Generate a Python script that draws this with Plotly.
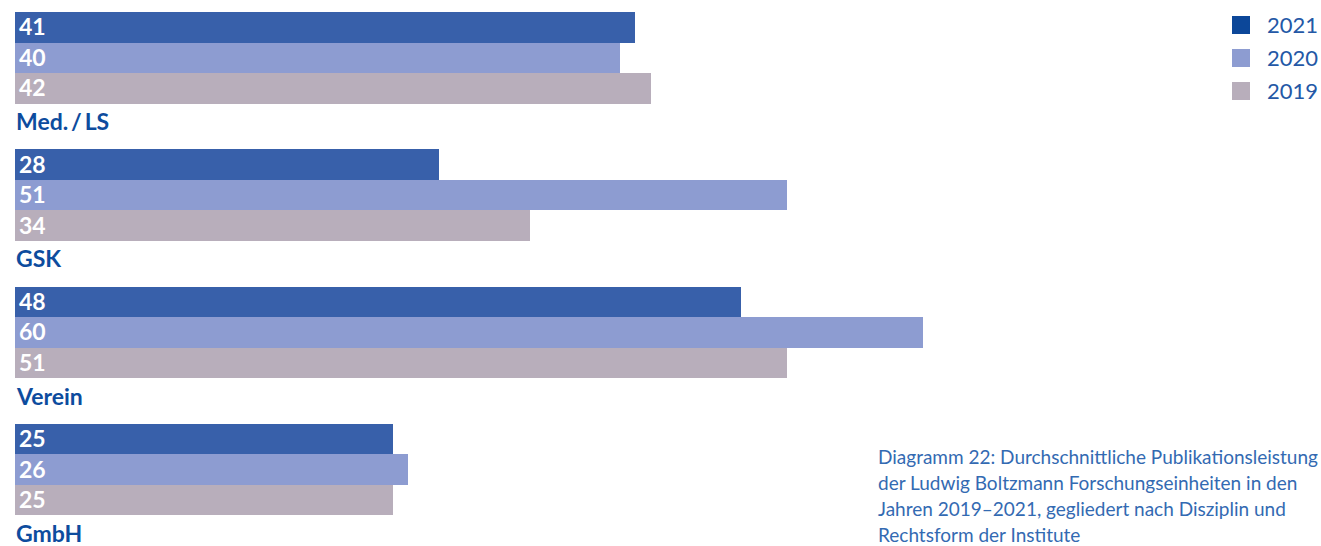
import plotly.graph_objects as go

categories = ["Med.\u2009/\u2009LS", "GSK", "Verein", "GmbH"]
years = ["2021", "2020", "2019"]
values = {
    "2021": [41, 28, 48, 25],
    "2020": [40, 51, 60, 26],
    "2019": [42, 34, 51, 25],
}
colors = {"2021": "#3860aa", "2020": "#8d9cd1", "2019": "#b8aebb"}
legend_colors = {"2021": "#0c4799", "2020": "#8d9cd1", "2019": "#b8aebb"}
caption_lines = [
    "Diagramm 22: Durchschnittliche Publikationsleistung",
    "der Ludwig Boltzmann Forschungseinheiten in den",
    "Jahren 2019\u20132021, gegliedert nach Disziplin und",
    "Rechtsform der Institute",
]

W, H = 1321, 546
ML = 15
PX_PER_UNIT = 15.133
BAR_PX = 30.5
PITCH = 4.5
y0 = -0.5 - 12 / BAR_PX
y1 = y0 + H / BAR_PX

fig = go.Figure()
annotations = []
for i, yr in enumerate(years):
    ys = [g * PITCH + i for g in range(len(categories))]
    fig.add_trace(go.Bar(
        x=values[yr], y=ys, orientation="h", width=1.0,
        marker=dict(color=colors[yr], line=dict(width=0)),
        name=yr, showlegend=False, hoverinfo="x",
    ))
    for v, y in zip(values[yr], ys):
        annotations.append(dict(
            x=0, y=y, xref="x", yref="y", xanchor="left", yanchor="middle",
            xshift=2, yshift=1, text=f"<b>{v}</b>", showarrow=False,
            font=dict(family="Lato", size=23, color="white"),
        ))

for g, cat in enumerate(categories):
    annotations.append(dict(
        x=0, y=g * PITCH + 3.08, xref="x", yref="y", xanchor="left", yanchor="middle",
        xshift=-1, text=f"<b>{cat}</b>", showarrow=False,
        font=dict(family="Lato", size=23, color="#0d4c9e"),
    ))

shapes = []
for i, yr in enumerate(years):
    cy = 25 + i * 33
    shapes.append(dict(type="rect", xref="paper", yref="paper",
                       x0=(1232 - ML) / (W - ML), x1=(1250 - ML) / (W - ML),
                       y0=1 - (cy + 9) / H, y1=1 - (cy - 9) / H,
                       fillcolor=legend_colors[yr], line=dict(width=0)))
    annotations.append(dict(
        x=(1265 - ML) / (W - ML), y=1 - cy / H, xref="paper", yref="paper",
        xanchor="left", yanchor="middle", text=yr, showarrow=False,
        font=dict(family="Lato", size=22, color="#2458a6"),
    ))

for k, line in enumerate(caption_lines):
    cy = 456 + k * 26.2
    annotations.append(dict(
        x=(876 - ML) / (W - ML), y=1 - cy / H, xref="paper", yref="paper",
        xanchor="left", yanchor="middle", text=line, showarrow=False,
        font=dict(family="Lato", size=19, color="#336ab2"),
    ))

fig.update_layout(
    width=W, height=H,
    margin=dict(l=ML, r=0, t=0, b=0),
    paper_bgcolor="white", plot_bgcolor="white",
    barmode="overlay", bargap=0,
    xaxis=dict(range=[0, (W - ML) / PX_PER_UNIT], visible=False, fixedrange=True),
    yaxis=dict(range=[y1, y0], visible=False, fixedrange=True),
    shapes=shapes, annotations=annotations, showlegend=False,
)

fig.write_html("out.html")
